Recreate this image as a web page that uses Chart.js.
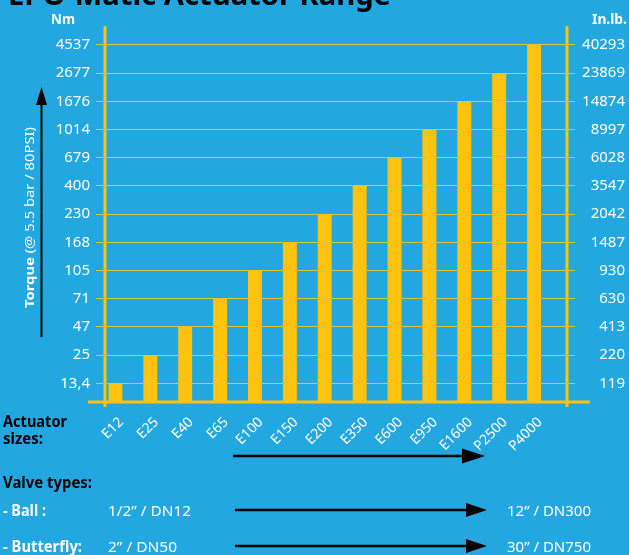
<!DOCTYPE html>
<html><head><meta charset="utf-8">
<title>EPO-Matic Actuator Range</title>
<script src="https://cdn.jsdelivr.net/npm/chart.js@4.4.1/dist/chart.umd.min.js"></script>
<style>
html,body{margin:0;padding:0;background:#22a7e0;overflow:hidden}
#wrap{position:relative;width:629px;height:555px;background:#22a7e0;font-family:"Noto Sans",sans-serif}
#c{position:absolute;left:0;top:0}
#ov{position:absolute;left:0;top:0;pointer-events:none}
</style></head>
<body><div id="wrap"><canvas id="c" width="629" height="555"></canvas>
<svg id="ov" width="629" height="555" viewBox="0 0 629 555" font-family="Noto Sans, sans-serif">
  <text x="8" y="5" font-size="28" font-weight="700" fill="#000" textLength="383" lengthAdjust="spacingAndGlyphs">EPO-Matic Actuator Range</text>
  <text x="51" y="24" font-size="14" font-weight="700" fill="#fff" textLength="24" lengthAdjust="spacingAndGlyphs">Nm</text>
  <text x="592" y="24" font-size="14" font-weight="700" fill="#fff" textLength="35" lengthAdjust="spacingAndGlyphs">In.lb.</text>
  <text transform="translate(34,217.5) rotate(-90)" text-anchor="middle" font-size="13" fill="#fff" textLength="181" lengthAdjust="spacingAndGlyphs"><tspan font-weight="700">Torque</tspan> (@ 5.5 bar / 80PSI)</text>
  <line x1="41.5" y1="337" x2="41.5" y2="100" stroke="#000" stroke-width="2"/>
  <polygon points="41.5,87 36,105 47,105" fill="#000"/>
  <text x="3" y="427" font-size="16" font-weight="700" fill="#000" textLength="64" lengthAdjust="spacingAndGlyphs">Actuator</text>
  <text x="3" y="444" font-size="16" font-weight="700" fill="#000" textLength="40" lengthAdjust="spacingAndGlyphs">sizes:</text>
  <line x1="233" y1="456" x2="466" y2="456" stroke="#000" stroke-width="2.5"/>
  <polygon points="485,456 462,448.5 462,463.5" fill="#000"/>
  <text x="3" y="488" font-size="16" font-weight="700" fill="#000" textLength="89" lengthAdjust="spacingAndGlyphs">Valve types:</text>
  <text x="3" y="516" font-size="16" font-weight="700" fill="#fff" textLength="43" lengthAdjust="spacingAndGlyphs">- Ball :</text>
  <text x="108" y="516" font-size="15" fill="#fff" textLength="83" lengthAdjust="spacingAndGlyphs">1/2” / DN12</text>
  <line x1="235" y1="510" x2="470" y2="510" stroke="#000" stroke-width="2.5"/>
  <polygon points="487,510 466,503 466,517" fill="#000"/>
  <text x="507" y="516" font-size="15" fill="#fff" textLength="84" lengthAdjust="spacingAndGlyphs">12” / DN300</text>
  <text x="3" y="552" font-size="16" font-weight="700" fill="#fff" textLength="79" lengthAdjust="spacingAndGlyphs">- Butterfly:</text>
  <text x="108" y="552" font-size="15" fill="#fff" textLength="69" lengthAdjust="spacingAndGlyphs">2” / DN50</text>
  <line x1="235" y1="546" x2="470" y2="546" stroke="#000" stroke-width="2.5"/>
  <polygon points="487,546 466,539 466,553" fill="#000"/>
  <text x="507" y="552" font-size="15" fill="#fff" textLength="84" lengthAdjust="spacingAndGlyphs">30” / DN750</text>
</svg></div>
<script>
// ---- data ----
const actuators = ['E12','E25','E40','E65','E100','E150','E200','E350','E600','E950','E1600','P2500','P4000'];
const torqueNm  = [13.4, 25, 47, 71, 105, 168, 230, 400, 679, 1014, 1676, 2677, 4537];
const levelsNm  = [13.4, 25, 47, 71, 105, 168, 230, 400, 679, 1014, 1676, 2677, 4537];
const tickNm    = ['13,4','25','47','71','105','168','230','400','679','1014','1676','2677','4537'];
const tickInlb  = ['119','220','413','630','930','1487','2042','3547','6028','8997','14874','23869','40293'];

// the axis is a step scale: each torque level sits on its own evenly spaced tick
const levelPos = torqueNm.map(v => levelsNm.indexOf(v) + 1);

const GOLD = '#ffc20e';
const GRID = '#e4c23a';
const FONT = 'Noto Sans';

const axisLines = {
  id: 'axisLines',
  afterDatasetsDraw(chart) {
    const {ctx, chartArea: a} = chart;
    ctx.save();
    ctx.strokeStyle = GOLD;
    ctx.lineWidth = 3;
    ctx.beginPath();
    ctx.moveTo(a.left, a.top); ctx.lineTo(a.left, a.bottom + 5);
    ctx.moveTo(a.right, a.top); ctx.lineTo(a.right, a.bottom + 5);
    ctx.moveTo(a.left - 17, a.bottom); ctx.lineTo(a.right + 23, a.bottom);
    ctx.stroke();
    ctx.restore();
  }
};
const xInset = {
  id: 'xInset',
  afterLayout(chart, args, opts) {
    const s = chart.scales.x;
    s._startPixel = s.left + opts.start;
    s._endPixel = s.right - opts.end;
    s._length = s._endPixel - s._startPixel;
  }
};

const yMin = 0.34, yMax = 13.67;
const levelTicks = s => { s.ticks = levelsNm.map((v, i) => ({value: i + 1})); };

new Chart(document.getElementById('c'), {
  type: 'bar',
  data: {
    labels: actuators,
    datasets: [{
      label: 'Torque (Nm)',
      data: levelPos,
      backgroundColor: GOLD,
      borderWidth: 0,
      barPercentage: 0.40,
      categoryPercentage: 1
    }]
  },
  options: {
    responsive: false,
    animation: false,
    events: [],
    layout: {padding: {top: 26, right: 4, left: 0, bottom: 0}},
    plugins: {
      legend: {display: false},
      tooltip: {enabled: false},
      xInset: {start: -7, end: 15.5}
    },
    scales: {
      x: {
        grid: {display: false, drawTicks: false},
        border: {display: false},
        ticks: {
          color: '#fff', font: {family: FONT, size: 14},
          minRotation: 45, maxRotation: 45, autoSkip: false, padding: 12,
          showLabelBackdrop: true, backdropColor: 'rgba(0,0,0,0)'
        },
        afterFit(s) { s.height = 153; }
      },
      y: {
        position: 'left', min: yMin, max: yMax,
        afterBuildTicks: levelTicks,
        ticks: {
          color: '#fff', font: {family: FONT, size: 15}, padding: 6,
          callback: v => tickNm[Math.round(v) - 1]
        },
        grid: {color: GRID, lineWidth: 1, tickLength: 9, tickColor: GRID},
        border: {display: false},
        afterFit(s) { s.width = 105; }
      },
      y2: {
        position: 'right', min: yMin, max: yMax,
        afterBuildTicks: levelTicks,
        ticks: {
          color: '#fff', font: {family: FONT, size: 15}, padding: 4, crossAlign: 'far',
          callback: v => tickInlb[Math.round(v) - 1]
        },
        grid: {drawOnChartArea: false, color: GRID, lineWidth: 1, tickLength: 8},
        border: {display: false},
        afterFit(s) { s.width = 58; }
      }
    }
  },
  plugins: [xInset, axisLines]
});
</script>
</body></html>
